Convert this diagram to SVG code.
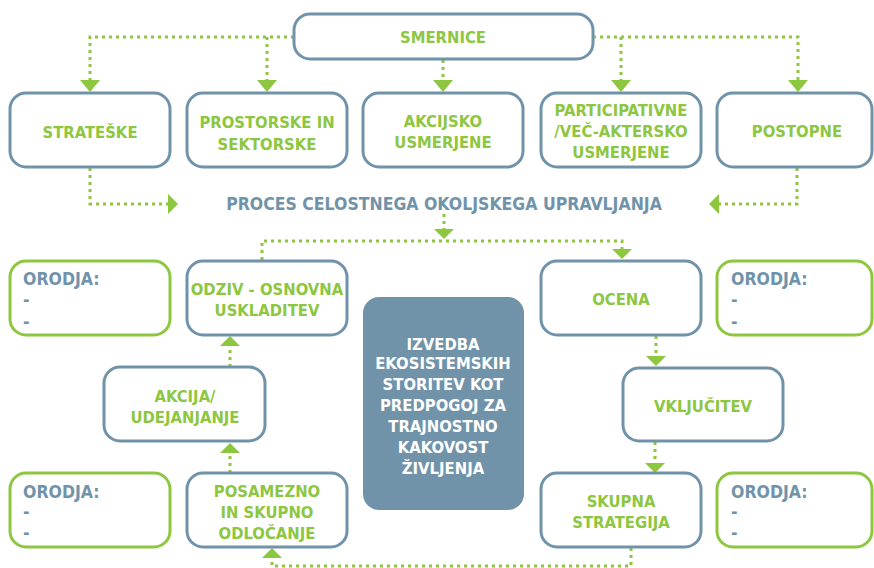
<svg xmlns="http://www.w3.org/2000/svg" width="874" height="568" viewBox="0 0 874 568">
<style>
.box{fill:#fff;stroke:#7193aa;stroke-width:3}
.tool{fill:#fff;stroke:#8dc63f;stroke-width:3}
.t{font-family:'DejaVu Sans Condensed','DejaVu Sans',sans-serif;font-size:16.5px;font-weight:bold;fill:#8dc63f;text-anchor:middle}
.tt{font-family:'DejaVu Sans Condensed','DejaVu Sans',sans-serif;font-size:17.5px;font-weight:bold;fill:#7193aa}
.w{font-family:'DejaVu Sans Condensed','DejaVu Sans',sans-serif;font-size:16.5px;font-weight:bold;fill:#fff;text-anchor:middle}
.c{fill:none;stroke:#8dc63f;stroke-width:3;stroke-dasharray:3 4}
.a{fill:#8dc63f}
</style>
<rect width="874" height="568" fill="#fff"/>
<g id="connectors">
<path class="c" d="M294,37 H90 V80 M267,37 V80 M443,60 V80 M593,37 H798 V80 M621,37 V80"/>
<polygon class="a" points="80,80 100,80 90,92"/>
<polygon class="a" points="257,80 277,80 267,92"/>
<polygon class="a" points="433,80 453,80 443,92"/>
<polygon class="a" points="611,80 631,80 621,92"/>
<polygon class="a" points="788,80 808,80 798,92"/>
<path class="c" d="M90,168 V204 H168 M797,168 V204 H719"/>
<polygon class="a" points="168,194 168,214 178,204"/>
<polygon class="a" points="719,194 719,214 709,204"/>
<path class="c" d="M444,214 V229 M262,260 V241 H622 V249"/>
<polygon class="a" points="434,229 454,229 444,239"/>
<polygon class="a" points="612,249 632,249 622,259"/>
<path class="c" d="M230,367 V346 M230,473 V453"/>
<polygon class="a" points="220,346 240,346 230,336"/>
<polygon class="a" points="220,453 240,453 230,443"/>
<path class="c" d="M631,548 V566 H272 V558"/>
<polygon class="a" points="262,558 282,558 272,548"/>
<path class="c" d="M656,336 V356 M655,442 V463"/>
<polygon class="a" points="646,356 666,356 656,366"/>
<polygon class="a" points="645,463 665,463 655,473"/>
</g>
<g id="smernice"><rect class="box" x="294" y="14" width="299" height="45" rx="16"/><text class="t" x="443" y="43">SMERNICE</text></g>
<g id="strateske"><rect class="box" x="10" y="93" width="160" height="74" rx="16"/><text class="t" x="90" y="138">STRATEŠKE</text></g>
<g id="prostorske"><rect class="box" x="187" y="93" width="160" height="74" rx="16"/><text class="t" x="267" y="128">PROSTORSKE IN</text><text class="t" x="267" y="150">SEKTORSKE</text></g>
<g id="akcijsko"><rect class="box" x="363" y="93" width="160" height="74" rx="16"/><text class="t" x="443" y="127">AKCIJSKO</text><text class="t" x="443" y="148">USMERJENE</text></g>
<g id="participativne"><rect class="box" x="541" y="93" width="160" height="74" rx="16"/><text class="t" x="621" y="116">PARTICIPATIVNE</text><text class="t" x="621" y="137">/VEČ-AKTERSKO</text><text class="t" x="621" y="158">USMERJENE</text></g>
<g id="postopne"><rect class="box" x="717" y="93" width="155" height="74" rx="16"/><text class="t" x="797" y="137">POSTOPNE</text></g>
<g id="proces"><text class="tt" x="444" y="210" text-anchor="middle">PROCES CELOSTNEGA OKOLJSKEGA UPRAVLJANJA</text></g>
<g id="orodja1"><rect class="tool" x="10" y="261" width="160" height="74" rx="16"/><text class="tt" x="23" y="285">ORODJA:</text><text class="tt" x="23" y="306">-</text><text class="tt" x="23" y="328">-</text></g>
<g id="odziv"><rect class="box" x="187" y="261" width="160" height="74" rx="16"/><text class="t" x="267" y="295">ODZIV - OSNOVNA</text><text class="t" x="267" y="316">USKLADITEV</text></g>
<g id="ocena"><rect class="box" x="541" y="261" width="160" height="74" rx="16"/><text class="t" x="621" y="305">OCENA</text></g>
<g id="orodja2"><rect class="tool" x="717" y="261" width="155" height="74" rx="16"/><text class="tt" x="731" y="285">ORODJA:</text><text class="tt" x="731" y="306">-</text><text class="tt" x="731" y="328">-</text></g>
<g id="izvedba"><rect x="363" y="297" width="161" height="213" rx="16" fill="#7193aa"/>
<text class="w" x="443" y="350">IZVEDBA</text><text class="w" x="443" y="369">EKOSISTEMSKIH</text><text class="w" x="443" y="390">STORITEV KOT</text><text class="w" x="443" y="411">PREDPOGOJ ZA</text><text class="w" x="443" y="432">TRAJNOSTNO</text><text class="w" x="443" y="453">KAKOVOST</text><text class="w" x="443" y="474">ŽIVLJENJA</text></g>
<g id="akcija"><rect class="box" x="104" y="367" width="161" height="74" rx="16"/><text class="t" x="185" y="402">AKCIJA/</text><text class="t" x="185" y="423">UDEJANJANJE</text></g>
<g id="vkljucitev"><rect class="box" x="623" y="368" width="160" height="73" rx="16"/><text class="t" x="703" y="412">VKLJUČITEV</text></g>
<g id="orodja3"><rect class="tool" x="10" y="473" width="160" height="74" rx="16"/><text class="tt" x="23" y="498">ORODJA:</text><text class="tt" x="23" y="518">-</text><text class="tt" x="23" y="539">-</text></g>
<g id="posamezno"><rect class="box" x="187" y="473" width="160" height="74" rx="16"/><text class="t" x="267" y="497">POSAMEZNO</text><text class="t" x="267" y="518">IN SKUPNO</text><text class="t" x="267" y="539">ODLOČANJE</text></g>
<g id="skupna"><rect class="box" x="541" y="473" width="160" height="74" rx="16"/><text class="t" x="621" y="507">SKUPNA</text><text class="t" x="621" y="528">STRATEGIJA</text></g>
<g id="orodja4"><rect class="tool" x="717" y="473" width="155" height="74" rx="16"/><text class="tt" x="731" y="498">ORODJA:</text><text class="tt" x="731" y="518">-</text><text class="tt" x="731" y="539">-</text></g>
</svg>
